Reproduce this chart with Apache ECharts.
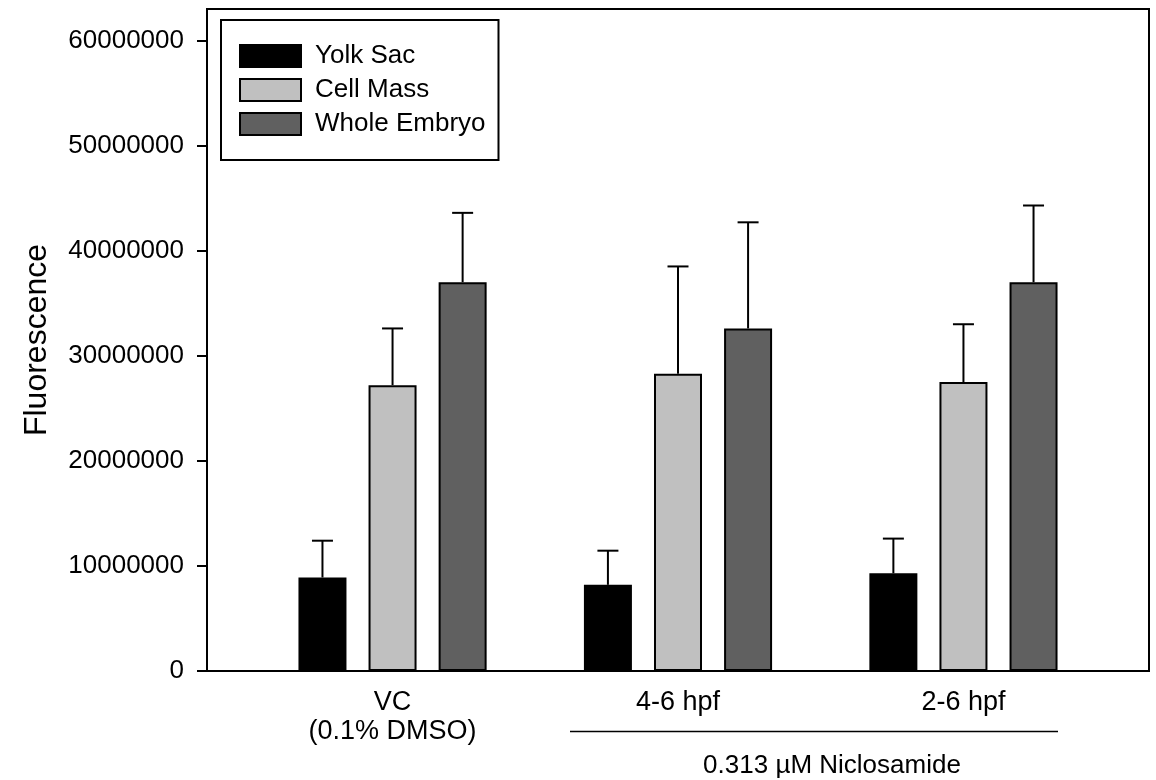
<!DOCTYPE html>
<html>
<head>
<meta charset="utf-8">
<script src="https://cdn.jsdelivr.net/npm/echarts@6/dist/echarts.min.js"></script>
<style>
  html, body { margin: 0; padding: 0; background: #fff; }
  #chart { width: 1156px; height: 780px; }
</style>
</head>
<body>
<div id="chart"></div>
<script>
// 数据
const categories = ["VC\n(0.1% DMSO)", "4-6 hpf", "2-6 hpf"];
const seriesNames = ["Yolk Sac", "Cell Mass", "Whole Embryo"];
const seriesColors = ["#000000", "#c0c0c0", "#606060"];
const yolkSac = [8900000, 8200000, 9300000];
const yolkSacErr = [3500000, 3250000, 3300000];
const cellMass = [27200000, 28300000, 27500000];
const cellMassErr = [5400000, 10200000, 5500000];
const wholeEmbryo = [37000000, 32600000, 37000000];
const wholeEmbryoErr = [6600000, 10100000, 7300000];
const yTicks = [0, 10000000, 20000000, 30000000, 40000000, 50000000, 60000000];
const groupLabel = "0.313 µM Niclosamide";

const means = [yolkSac, cellMass, wholeEmbryo];
const errs = [yolkSacErr, cellMassErr, wholeEmbryoErr];

const FONT = "Liberation Sans, Arial, sans-serif";
const BAR_W = 48;
const BAR_GAP = 0.46;

const chart = echarts.init(document.getElementById("chart"));

const barSeries = seriesNames.map((name, i) => ({
  name: name,
  type: "bar",
  barWidth: BAR_W,
  barGap: BAR_GAP * 100 + "%",
  data: means[i].map((v, j) => [j, v]),
  itemStyle: { color: seriesColors[i], borderColor: "#000", borderWidth: 2 },
  z: 2,
}));

// 误差线
const errSeries = seriesNames.map((name, i) => ({
  type: "custom",
  name: name + " err",
  z: 3,
  silent: true,
  data: means[i].map((v, j) => [j, v, v + errs[i][j]]),
  renderItem: function (params, api) {
    const off = (i - 1) * BAR_W * (1 + BAR_GAP);
    const p0 = api.coord([api.value(0), api.value(1)]);
    const p1 = api.coord([api.value(0), api.value(2)]);
    const x = p0[0] + off;
    const style = { stroke: "#000", lineWidth: 2 };
    return {
      type: "group",
      children: [
        { type: "line", shape: { x1: x, y1: p0[1], x2: x, y2: p1[1] }, style: style },
        { type: "line", shape: { x1: x - 10.5, y1: p1[1], x2: x + 10.5, y2: p1[1] }, style: style },
      ],
    };
  },
}));

const option = {
  animation: false,
  textStyle: { fontFamily: FONT },
  grid: {
    left: 207, top: 9, right: 7, bottom: 109,
    show: true, borderColor: "#000", borderWidth: 2,
  },
  legend: {
    data: seriesNames,
    orient: "vertical",
    left: 221,
    top: 20,
    z: 10,
    icon: "rect",
    itemWidth: 61,
    itemHeight: 22,
    itemGap: 8,
    padding: [23, 13, 23, 18],
    backgroundColor: "#fff",
    borderColor: "#000",
    borderWidth: 2,
    textStyle: { fontSize: 26, color: "#000", fontFamily: FONT, lineHeight: 26, padding: [0, 0, 0, 9] },
  },
  xAxis: {
    type: "value",
    min: -0.65,
    max: 2.65,
    splitLine: { show: false },
    axisTick: { show: false },
    axisLine: { onZero: false, lineStyle: { color: "#000", width: 2 } },
    axisLabel: {
      customValues: [0, 1, 2],
      formatter: (v) => categories[Math.round(v)],
      fontSize: 27,
      lineHeight: 29,
      color: "#000",
      margin: 17,
      fontFamily: FONT,
    },
  },
  yAxis: {
    type: "value",
    min: 0,
    max: 63000000,
    name: "Fluorescence",
    nameLocation: "middle",
    nameGap: 154,
    nameTextStyle: { fontSize: 32, color: "#000", fontFamily: FONT },
    splitLine: { show: false },
    axisLine: { show: true, onZero: false, lineStyle: { color: "#000", width: 2 } },
    axisTick: { show: true, customValues: yTicks, length: 10, lineStyle: { color: "#000", width: 2 } },
    axisLabel: {
      customValues: yTicks,
      formatter: (v) => String(v),
      fontSize: 26,
      color: "#000",
      margin: 23,
      fontFamily: FONT,
    },
  },
  graphic: [
    { type: "line", shape: { x1: 570, y1: 731.5, x2: 1058, y2: 731.5 }, style: { stroke: "#000", lineWidth: 1.5 } },
    {
      type: "text", x: 832, y: 753,
      style: { text: groupLabel, font: "26px " + FONT, fill: "#000", align: "center", verticalAlign: "top" },
    },
  ],
  series: barSeries.concat(errSeries),
};

chart.setOption(option);
</script>
</body>
</html>
